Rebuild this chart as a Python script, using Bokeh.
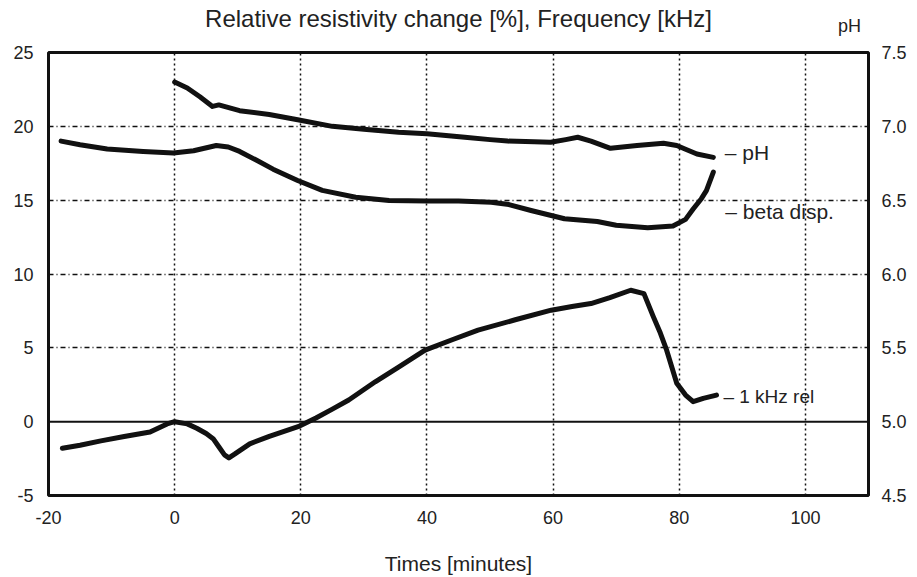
from bokeh.plotting import figure
from bokeh.models import Range1d, LinearAxis, FixedTicker, PrintfTickFormatter, Span, Label
from bokeh.embed import file_html
from bokeh.resources import INLINE

# ---- data ----
x_ticks = [-20, 0, 20, 40, 60, 80, 100]
y_ticks = [-5, 0, 5, 10, 15, 20, 25]
ph_ticks = [4.5, 5.0, 5.5, 6.0, 6.5, 7.0, 7.5]

t_khz = [-17.8, -15, -11.7, -8, -3.9, -1.2, 0, 2, 3.5, 5, 6.1, 7, 7.9, 8.6, 9.5, 11.9, 15,
         19.8, 22.4, 25, 27.6, 31.8, 35.5, 39.7, 44, 48.1, 54, 59.7, 63, 66, 69, 72.3, 74.4,
         75.9, 77, 78, 79.6, 81, 82.2, 83.8, 85.9]
khz_rel = [-1.8, -1.6, -1.3, -1.0, -0.7, -0.15, 0.0, -0.15, -0.45, -0.8, -1.15, -1.7, -2.25,
           -2.45, -2.2, -1.5, -1.0, -0.3, 0.25, 0.85, 1.47, 2.7, 3.7, 4.84, 5.55, 6.2, 6.9,
           7.55, 7.8, 8.0, 8.4, 8.9, 8.67, 7.1, 6.0, 4.84, 2.6, 1.8, 1.35, 1.58, 1.8]

t_beta = [-18, -15, -10.7, -5, -0.2, 3, 6.6, 8.5, 10.3, 13, 15.6, 19.5, 23.4, 28.7, 34, 40,
          45, 50.2, 53, 56.5, 61.8, 67, 70, 75, 79, 81, 82.2, 83.5, 84.3, 85.4]
beta_disp = [19.0, 18.75, 18.47, 18.3, 18.2, 18.35, 18.7, 18.6, 18.3, 17.7, 17.1, 16.33, 15.66,
             15.2, 14.98, 14.95, 14.95, 14.86, 14.7, 14.3, 13.74, 13.55, 13.3, 13.13, 13.25,
             13.7, 14.4, 15.1, 15.65, 16.9]

t_ph = [0, 2, 4, 6, 7, 10.3, 15, 19.5, 25, 30, 35.5, 40, 46, 50, 52.8, 57, 59.6, 62, 63.9, 66,
        69.1, 71, 73.3, 77.5, 79.6, 81, 82.8, 85.4]
ph = [7.30, 7.26, 7.20, 7.135, 7.145, 7.106, 7.08, 7.045, 7.0, 6.98, 6.96, 6.95, 6.926, 6.91,
      6.90, 6.895, 6.892, 6.91, 6.926, 6.90, 6.851, 6.86, 6.87, 6.885, 6.87, 6.845, 6.813, 6.79]

FONT = "Liberation Sans"
TXT = "#222222"
INK = "#111111"

p = figure(width=917, height=577, x_range=Range1d(-20, 110), y_range=Range1d(-5, 25),
           output_backend="svg", toolbar_location=None,
           title="Relative resistivity change [%], Frequency [kHz]",
           min_border_left=48, min_border_right=49, min_border_top=52, min_border_bottom=82)
p.background_fill_color = "white"
p.border_fill_color = "white"
p.outline_line_color = INK
p.outline_line_width = 3

p.title.align = "center"
p.title.text_font = FONT
p.title.text_font_size = "24px"
p.title.text_font_style = "normal"
p.title.text_color = TXT
p.title.standoff = -38

bax = p.below[0]
lax = p.left[0]

# right pH axis
p.extra_y_ranges = {"ph": Range1d(4.5, 7.5)}
rax = LinearAxis(y_range_name="ph", ticker=FixedTicker(ticks=ph_ticks),
                 formatter=PrintfTickFormatter(format="%.1f"))
p.add_layout(rax, "right")

# "pH" caption above the right axis, as a top axis label
tax = LinearAxis(ticker=FixedTicker(ticks=[107]), major_label_overrides={107: "pH"})
p.add_layout(tax, "above")

bax.ticker = FixedTicker(ticks=x_ticks)
bax.formatter = PrintfTickFormatter(format="%d")
lax.ticker = FixedTicker(ticks=y_ticks)
lax.formatter = PrintfTickFormatter(format="%d")
for ax in [bax, lax, rax, tax]:
    ax.axis_line_color = None
    ax.major_tick_line_color = None
    ax.minor_tick_line_color = None
    ax.major_tick_out = 0
    ax.major_tick_in = 0
    ax.major_label_text_font = FONT
    ax.major_label_text_font_size = "18px"
    ax.major_label_text_color = TXT
bax.major_label_standoff = 15
lax.major_label_standoff = 15
rax.major_label_standoff = 13
tax.major_label_standoff = 17

bax.axis_label = "Times [minutes]"
bax.axis_label_text_font = FONT
bax.axis_label_text_font_size = "21px"
bax.axis_label_text_font_style = "normal"
bax.axis_label_text_color = TXT
bax.axis_label_standoff = 25

p.xgrid.ticker = FixedTicker(ticks=[0, 20, 40, 60, 80, 100])
p.xgrid.grid_line_color = INK
p.xgrid.grid_line_width = 1.5
p.xgrid.grid_line_dash = "2 3"
p.ygrid.ticker = FixedTicker(ticks=[5, 10, 15, 20])
p.ygrid.grid_line_color = INK
p.ygrid.grid_line_width = 1.5
p.ygrid.grid_line_dash = "5 3 1 3"

p.add_layout(Span(location=0, dimension="width", line_color=INK, line_width=2))

p.line(t_khz, khz_rel, line_width=5, line_color=INK, line_join="round", line_cap="round")
p.line(t_beta, beta_disp, line_width=5, line_color=INK, line_join="round", line_cap="round")
p.line(t_ph, ph, y_range_name="ph", line_width=5, line_color=INK, line_join="round", line_cap="round")

def lab(x, y, text, size, align="left"):
    p.add_layout(Label(x=x, y=y, text=text, text_font=FONT, text_font_size=size,
                       text_color=TXT, text_align=align, text_baseline="middle"))

lab(87.2, 18.2, "\u2013 pH", "21px")
lab(87.3, 14.2, "\u2013 beta disp.", "21px")
lab(87.0, 1.7, "\u2013 1 kHz rel", "19px")

open("out.html", "w").write(file_html(p, INLINE))
